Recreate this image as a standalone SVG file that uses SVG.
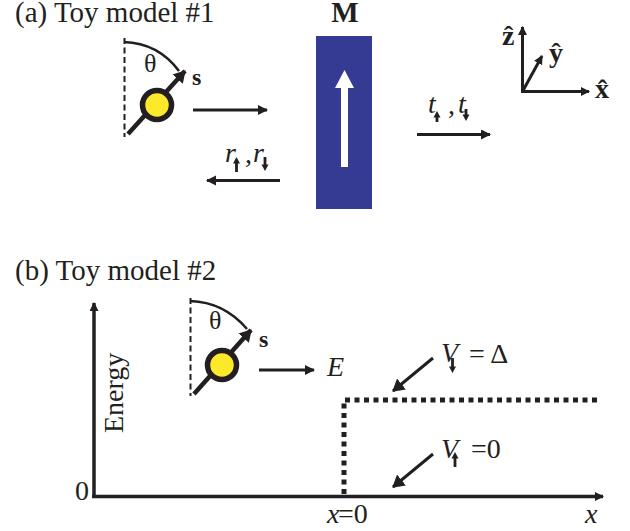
<svg xmlns="http://www.w3.org/2000/svg" width="630" height="531" viewBox="0 0 630 531">
<style>
text{font-family:"Liberation Serif","Times New Roman",serif;fill:#231f20}
.t{font-size:29px}
.l{font-size:28px}
.g{font-size:26px}
.s{font-size:24px;font-weight:bold}
.b{font-weight:bold}
.i{font-style:italic}
.ln{fill:none;stroke:#231f20;stroke-width:3}
.th{fill:none;stroke:#231f20;stroke-width:2.500}
.sp{fill:none;stroke:#231f20;stroke-width:4.500}
.sub{fill:none;stroke:#231f20;stroke-width:2.800}
.ah{fill:#231f20}
</style>
<defs>
<marker id="a" markerUnits="userSpaceOnUse" markerWidth="12" markerHeight="12" refX="9" refY="5" orient="auto"><path d="M0 0L10 5L0 10Z" fill="#231f20"/></marker>
<marker id="am" markerUnits="userSpaceOnUse" markerWidth="12" markerHeight="12" refX="8" refY="4.500" orient="auto"><path d="M0 0L9 4.500L0 9Z" fill="#231f20"/></marker>
<marker id="as" markerUnits="userSpaceOnUse" markerWidth="16" markerHeight="16" refX="11" refY="7" orient="auto"><path d="M0 0L12 7L0 14Z" fill="#231f20"/></marker>
</defs>
<text class="t" x="15" y="22">(a) Toy model #1</text>
<text class="t" x="15" y="280">(b) Toy model #2</text>
<g id="spin-a">
<line x1="124.500" y1="38" x2="124.500" y2="137" fill="none" stroke="#231f20" stroke-width="2" stroke-dasharray="6 3.500"/>
<path class="th" d="M124 42Q158 43 179 71"/>
<line class="sp" x1="128" y1="134" x2="185" y2="71" marker-end="url(#as)"/>
<circle cx="157" cy="105" r="14.500" fill="#fce92c" stroke="#231f20" stroke-width="5.500"/>
<text class="g" x="144" y="72">θ</text>
<text class="s" x="192" y="85">s</text>
</g>
<g id="magnet">
<rect x="316" y="36" width="56" height="173" fill="#353b92"/>
<path d="M341 167V88H335L344.500 70L354 88H348V167Z" fill="#fff"/>
<text class="t b" x="345" y="22" text-anchor="middle">M</text>
</g>
<g id="axes">
<text class="l b" x="502" y="45">ẑ</text>
<text class="l b" x="549" y="62">ŷ</text>
<text class="l b" x="595" y="98">x̂</text>
</g>
<g id="labels-a">
<text class="l i" x="225" y="162">r</text><text class="l" x="245" y="163">,</text><text class="l i" x="253" y="162">r</text>
<path class="sub" d="M236.500 172V162M265 157V166"/>
<path class="ah" d="M233 163.500L236.500 157L240 163.500ZM261.500 164.500L265 171L268.500 164.500Z"/>
<text class="l i" x="428" y="113">t</text><text class="l" x="448" y="114">,</text><text class="l i" x="458" y="113">t</text>
<path class="sub" d="M437 122V116M466 109V116"/>
<path class="ah" d="M433.500 117.500L437 111L440.500 117.500ZM462.500 114.500L466 121L469.500 114.500Z"/>
</g>
<g id="spin-b">
<line x1="190.500" y1="298" x2="190.500" y2="396" fill="none" stroke="#231f20" stroke-width="2" stroke-dasharray="6 3.500"/>
<path class="th" d="M190 301Q224 302 247 329"/>
<line class="sp" x1="194" y1="394" x2="251" y2="330" marker-end="url(#as)"/>
<circle cx="222" cy="365" r="14.500" fill="#fce92c" stroke="#231f20" stroke-width="5.500"/>
<text class="g" x="209" y="329">θ</text>
<text class="s" x="259" y="347">s</text>
<text class="l i" x="327" y="376">E</text>
</g>
<g id="plot-b">
<path d="M344 494V400H601" fill="none" stroke="#231f20" stroke-width="5" stroke-dasharray="5 4.500"/>
<text class="l" transform="translate(123 433) rotate(-90)">Energy</text>
<text class="l" x="75" y="500">0</text>
<text class="l i" x="327" y="523">x</text><text class="l" x="338" y="523">=0</text>
<text class="l i" x="585" y="523">x</text>
<text class="l i" x="441" y="362">V</text><text class="l" x="469" y="363">= Δ</text>
<path class="sub" d="M452.500 358V368"/>
<path class="ah" d="M449 366.500L452.500 373L456 366.500Z"/>
<text class="l i" x="441" y="458">V</text><text class="l" x="471" y="458">=0</text>
<path class="sub" d="M455 467V457"/>
<path class="ah" d="M451.500 458.500L455 452L458.500 458.500Z"/>
</g>
<g id="connectors">
<line class="ln" x1="193" y1="110" x2="267" y2="110" marker-end="url(#a)"/>
<line class="ln" x1="280" y1="180.500" x2="207" y2="180.500" marker-end="url(#a)"/>
<line class="ln" x1="417" y1="134.500" x2="490" y2="134.500" marker-end="url(#a)"/>
<line class="ln" x1="522.500" y1="92" x2="522.500" y2="27" marker-end="url(#am)"/>
<line class="ln" x1="521" y1="91.500" x2="589" y2="91.500" marker-end="url(#am)"/>
<line class="ln" x1="522.500" y1="91.500" x2="542" y2="56" marker-end="url(#am)"/>
<line class="ln" x1="259" y1="370" x2="314" y2="370" marker-end="url(#a)"/>
<line x1="94" y1="497" x2="94" y2="303" stroke="#231f20" stroke-width="3.500" marker-end="url(#am)"/>
<line x1="92" y1="496.500" x2="603" y2="496.500" stroke="#231f20" stroke-width="3.500" marker-end="url(#am)"/>
<line class="ln" x1="433" y1="358" x2="393" y2="391" marker-end="url(#as)"/>
<line class="ln" x1="433" y1="454" x2="393" y2="487" marker-end="url(#as)"/>
</g>
</svg>
